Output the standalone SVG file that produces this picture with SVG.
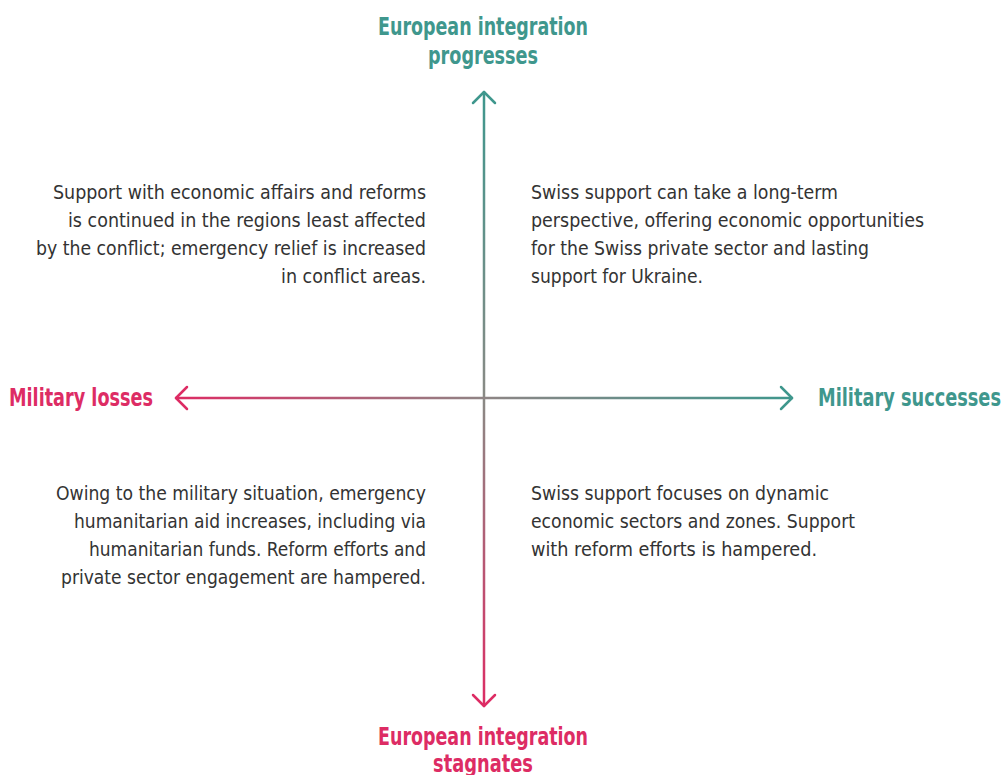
<svg xmlns="http://www.w3.org/2000/svg" width="1003" height="775" viewBox="0 0 1003 775">
  <style>
    .body { font-family: "DejaVu Sans Condensed", "Roboto", sans-serif; font-size: 20px; fill: #333333; }
    .head { font-family: "DejaVu Sans Condensed", "Roboto", sans-serif; font-size: 24px; font-weight: bold; }
    .teal { fill: #3f978d; }
    .pink { fill: #dd2c64; }
    .axis { fill: none; stroke-width: 2.5; stroke-linecap: round; stroke-linejoin: round; }
  </style>
  <defs>
    <linearGradient id="gradV" gradientUnits="userSpaceOnUse" x1="0" y1="92" x2="0" y2="706">
      <stop offset="0" stop-color="#3f978d"/>
      <stop offset="0.5" stop-color="#8a8a85"/>
      <stop offset="1" stop-color="#dd2c64"/>
    </linearGradient>
    <linearGradient id="gradH" gradientUnits="userSpaceOnUse" x1="176" y1="0" x2="792" y2="0">
      <stop offset="0" stop-color="#dd2c64"/>
      <stop offset="0.5" stop-color="#8f8585"/>
      <stop offset="1" stop-color="#3f978d"/>
    </linearGradient>
  </defs>

  <!-- axes -->
  <g id="connectors">
    <line class="axis" x1="484" y1="92" x2="484" y2="706" stroke="url(#gradV)"/>
    <polyline class="axis" points="473,103 484,92 495,103" stroke="#3f978d"/>
    <polyline class="axis" points="473,695 484,706 495,695" stroke="#dd2c64"/>
    <line class="axis" x1="176" y1="398" x2="792" y2="398" stroke="url(#gradH)"/>
    <polyline class="axis" points="187,387 176,398 187,409" stroke="#dd2c64"/>
    <polyline class="axis" points="781,387 792,398 781,409" stroke="#3f978d"/>
  </g>

  <!-- axis labels -->
  <g id="label-top">
    <text class="head teal" x="483" y="35" text-anchor="middle" textLength="210" lengthAdjust="spacingAndGlyphs">European integration</text>
    <text class="head teal" x="483" y="64" text-anchor="middle" textLength="110" lengthAdjust="spacingAndGlyphs">progresses</text>
  </g>
  <g id="label-bottom">
    <text class="head pink" x="483" y="745" text-anchor="middle" textLength="210" lengthAdjust="spacingAndGlyphs">European integration</text>
    <text class="head pink" x="483" y="772" text-anchor="middle" textLength="100" lengthAdjust="spacingAndGlyphs">stagnates</text>
  </g>
  <g id="label-left">
    <text class="head pink" x="9" y="406" textLength="144" lengthAdjust="spacingAndGlyphs">Military losses</text>
  </g>
  <g id="label-right">
    <text class="head teal" x="818" y="406" textLength="183" lengthAdjust="spacingAndGlyphs">Military successes</text>
  </g>

  <!-- quadrant texts -->
  <g id="quadrant-top-left">
    <text class="body" text-anchor="end" x="426" y="199" textLength="373" lengthAdjust="spacingAndGlyphs">Support with economic affairs and reforms</text>
    <text class="body" text-anchor="end" x="426" y="227" textLength="358" lengthAdjust="spacingAndGlyphs">is continued in the regions least affected</text>
    <text class="body" text-anchor="end" x="426" y="255" textLength="390" lengthAdjust="spacingAndGlyphs">by the conflict; emergency relief is increased</text>
    <text class="body" text-anchor="end" x="426" y="283" textLength="145" lengthAdjust="spacingAndGlyphs">in conflict areas.</text>
  </g>
  <g id="quadrant-top-right">
    <text class="body" x="531" y="199" textLength="307" lengthAdjust="spacingAndGlyphs">Swiss support can take a long-term</text>
    <text class="body" x="531" y="227" textLength="393" lengthAdjust="spacingAndGlyphs">perspective, offering economic opportunities</text>
    <text class="body" x="531" y="255" textLength="338" lengthAdjust="spacingAndGlyphs">for the Swiss private sector and lasting</text>
    <text class="body" x="531" y="283" textLength="172" lengthAdjust="spacingAndGlyphs">support for Ukraine.</text>
  </g>
  <g id="quadrant-bottom-left">
    <text class="body" text-anchor="end" x="426" y="500" textLength="370" lengthAdjust="spacingAndGlyphs">Owing to the military situation, emergency</text>
    <text class="body" text-anchor="end" x="426" y="528" textLength="352" lengthAdjust="spacingAndGlyphs">humanitarian aid increases, including via</text>
    <text class="body" text-anchor="end" x="426" y="556" textLength="337" lengthAdjust="spacingAndGlyphs">humanitarian funds. Reform efforts and</text>
    <text class="body" text-anchor="end" x="426" y="584" textLength="365" lengthAdjust="spacingAndGlyphs">private sector engagement are hampered.</text>
  </g>
  <g id="quadrant-bottom-right">
    <text class="body" x="531" y="500" textLength="298" lengthAdjust="spacingAndGlyphs">Swiss support focuses on dynamic</text>
    <text class="body" x="531" y="528" textLength="324" lengthAdjust="spacingAndGlyphs">economic sectors and zones. Support</text>
    <text class="body" x="531" y="556" textLength="286" lengthAdjust="spacingAndGlyphs">with reform efforts is hampered.</text>
  </g>
</svg>
